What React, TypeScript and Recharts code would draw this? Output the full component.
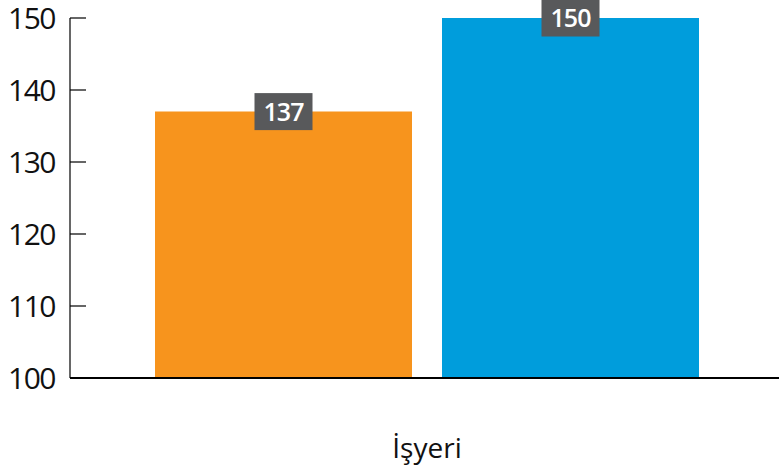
import React from 'react';
import { BarChart, Bar, XAxis, YAxis, LabelList } from 'recharts';

// category and series values
const categories = ['İşyeri'];
const seriesA = [137];
const seriesB = [150];
const yTicks = [100, 110, 120, 130, 140, 150];

const data = categories.map((name, i) => ({ name, a: seriesA[i], b: seriesB[i] }));

const FONT = '"Open Sans", "Noto Sans", sans-serif';

const YTick = (props: any) => {
  const { x, y, payload } = props;
  return (
    <g>
      <line x1={x + 15} x2={x + 31} y1={y} y2={y} stroke="#000" strokeWidth={1.2} />
      <text x={x} y={y} dy="0.36em" textAnchor="end" fontSize={30} letterSpacing={-1.5} fill="#111" fontFamily={FONT}>
        {payload.value}
      </text>
    </g>
  );
};

const ValueBox = (props: any) => {
  const { x, y, width, value } = props;
  const cx = x + width / 2;
  return (
    <g>
      <rect x={cx - 29} y={y - 18.5} width={58} height={37} fill="#58595B" />
      <text x={cx} y={y} dy="0.36em" textAnchor="middle" fontSize={25} fontWeight={600} letterSpacing={-1} fill="#fff" fontFamily={FONT}>
        {value}
      </text>
    </g>
  );
};

export default function App() {
  return (
    <div style={{ width: 779, height: 474 }}>
      <style>{`body{margin:0}`}</style>
      <BarChart
        width={779}
        height={474}
        data={data}
        margin={{ top: 18, right: -5, left: 0, bottom: 0 }}
        barGap={30}
      >
        <XAxis
          dataKey="name"
          height={96}
          tickLine={false}
          tickSize={0}
          tickMargin={60}
          axisLine={{ stroke: '#000', strokeWidth: 1.8 }}
          tick={{ fontSize: 28, fill: '#111', fontFamily: FONT }}
        />
        <YAxis
          width={70}
          domain={[100, 150]}
          ticks={yTicks}
          allowDataOverflow
          tickLine={false}
          tickSize={0}
          tickMargin={15}
          axisLine={{ stroke: '#000', strokeWidth: 1.2 }}
          tick={<YTick />}
        />
        <Bar dataKey="a" fill="#F7941D" barSize={257} isAnimationActive={false}>
          <LabelList dataKey="a" content={<ValueBox />} />
        </Bar>
        <Bar dataKey="b" fill="#009DDC" barSize={257} isAnimationActive={false}>
          <LabelList dataKey="b" content={<ValueBox />} />
        </Bar>
      </BarChart>
    </div>
  );
}
